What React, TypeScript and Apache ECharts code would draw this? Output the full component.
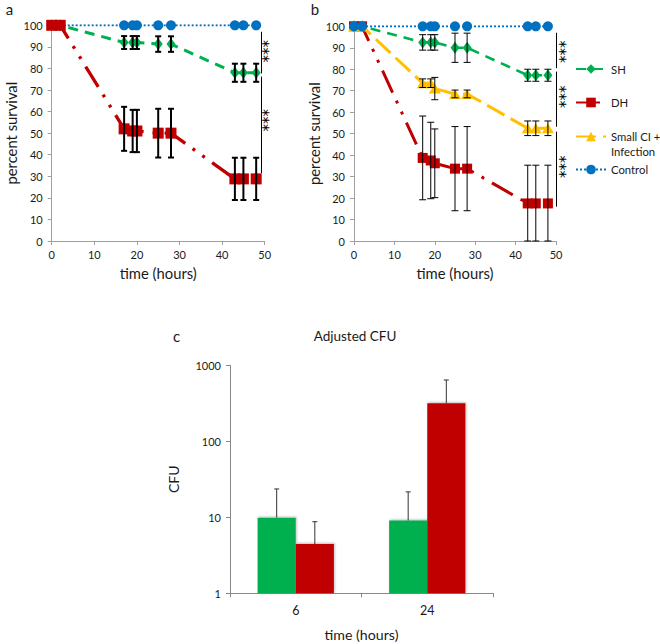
import React, { useEffect, useRef } from 'react';
import * as echarts from 'echarts';

const FONT = 'Lato, "Open Sans", sans-serif';
const STAR_FONT = '"DejaVu Sans", sans-serif';
const GREEN = '#00B050';
const RED = '#C00000';
const YELLOW = '#FFC000';
const BLUE = '#0070C0';
const AXIS_GRAY = '#a0a0a0';
const TXT = '#1a1a1a';

// time points (hours) for panels a and b
const TIME = [0, 2, 17, 19, 20, 25, 28, 43, 45, 48];

// Panel a
const A_CONTROL = [100, 100, 100, 100, 100, 100, 100, 100, 100, 100];
const A_SH = [100, 100, 92, 92, 92, 91.3, 91.3, 78, 78, 78];
const A_SH_ERR = [0, 0, 3, 3, 3, 3.6, 3.6, 4.2, 4.2, 4.2];
const A_DH = [100, 100, 52, 51, 51, 50, 50, 28.8, 28.8, 28.8];
const A_DH_ERR = [0, 0, 10.2, 9.8, 9.8, 11.3, 11.3, 9.8, 9.8, 9.8];

// Panel b
const B_CONTROL = [100, 100, 100, 100, 100, 100, 100, 100, 100, 100];
const B_SH = [100, 100, 92.5, 92.5, 92.5, 90, 90, 77.2, 77.2, 77.2];
const B_SH_ERR = [0, 0, 3.6, 3.6, 3.6, 6.8, 6.8, 2.8, 2.8, 2.8];
const B_CI = [100, 100, 73.5, 73.5, 71, 68.5, 68.5, 52.5, 52.5, 52.5];
const B_CI_ERR = [0, 0, 2, 2, 5.2, 1.8, 1.8, 3.4, 3.4, 3.4];
const B_DH = [100, 100, 38.7, 37.5, 36.2, 33.7, 33.7, 17.5, 17.5, 17.5];
const B_DH_ERR = [0, 0, 19.5, 17.8, 16, 19.6, 19.6, 17.8, 17.8, 17.8];

// Significance brackets [x, yTop, yBottom] and star positions [x, y]
const A_BRACKETS = [[49.3, 97, 77.7], [49.3, 76.2, 31.4]];
const A_STARS = [[50.3, 88], [50.3, 56]];
const B_BRACKETS = [[50, 97, 80.5], [50, 78.9, 53.2], [50, 50.9, 16]];
const B_STARS = [[51.5, 88.2], [51.5, 67.2], [51.5, 34.6]];
const STARS = '***';

// Panel c
const C_TIMES = ['6', '24'];
const C_SH = [9.9, 9.1];
const C_SH_ERR = [13.7, 12.5];
const C_DH = [4.45, 316];
const C_DH_ERR = [4.3, 325];

const X_TICKS = { min: 0, max: 50, interval: 10 };
const Y_TICKS = { min: 0, max: 100, interval: 10 };

function pairs(vals: number[]) {
  return TIME.map((t, i) => [t, vals[i]]);
}
function errRows(vals: number[], e: number[]) {
  const out: number[][] = [];
  TIME.forEach((t, i) => {
    if (e[i] > 0) out.push([t, Math.max(0, vals[i] - e[i]), vals[i] + e[i]]);
  });
  return out;
}

function errRender(capW: number, lw: number) {
  return (_params: any, api: any) => {
    const x = api.value(0);
    const lo = api.value(1);
    const hi = api.value(2);
    const top = api.coord([x, hi]);
    const bot = api.coord([x, lo]);
    const style = { stroke: '#000', lineWidth: lw, fill: 'none' };
    return {
      type: 'group',
      children: [
        { type: 'line', shape: { x1: top[0], y1: top[1], x2: bot[0], y2: bot[1] }, style },
        { type: 'line', shape: { x1: top[0] - capW / 2, y1: top[1], x2: top[0] + capW / 2, y2: top[1] }, style },
        { type: 'line', shape: { x1: bot[0] - capW / 2, y1: bot[1], x2: bot[0] + capW / 2, y2: bot[1] }, style },
      ],
    };
  };
}

function barErrRender(sign: number) {
  return (_params: any, api: any) => {
    const cat = api.value(0);
    const v = api.value(1);
    const hi = api.value(2);
    const bw = api.size([1, 1])[0];
    const off = sign * bw * 0.145;
    const p0 = api.coord([cat, v]);
    const p1 = api.coord([cat, hi]);
    const x = p0[0] + off;
    const style = { stroke: '#333', lineWidth: 1, fill: 'none' };
    return {
      type: 'group',
      children: [
        { type: 'line', shape: { x1: x, y1: p0[1], x2: x, y2: p1[1] }, style },
        { type: 'line', shape: { x1: x - 2.5, y1: p1[1], x2: x + 2.5, y2: p1[1] }, style },
      ],
    };
  };
}

// Significance stars: a custom series rendering '***' turned upright, at data coords [x, y]
function starRender(_params: any, api: any) {
  const p = api.coord([api.value(0), api.value(1)]);
  return {
    type: 'group',
    x: p[0] + 3.5,
    y: p[1],
    rotation: Math.PI / 2,
    children: [
      {
        type: 'text',
        x: 0,
        y: 0,
        style: { text: STARS, font: `15px ${STAR_FONT}`, fill: '#000', align: 'center', verticalAlign: 'middle' },
      },
    ],
  };
}

function starSeries(idx: number, list: number[][]) {
  return {
    type: 'custom', xAxisIndex: idx, yAxisIndex: idx, renderItem: starRender,
    data: list, encode: { x: 0, y: 1 }, z: 20, silent: true, clip: false,
    itemStyle: { color: '#000' },
  };
}

function lineSeries(name: string, idx: number, vals: number[], color: string, symbol: string,
  symbolSize: any, width: number, dash: any, z: number, extra: any = {}) {
  return {
    type: 'line',
    name,
    xAxisIndex: idx,
    yAxisIndex: idx,
    data: pairs(vals),
    symbol,
    symbolSize,
    showSymbol: true,
    itemStyle: { color, borderWidth: 0 },
    lineStyle: { color, width, type: dash, cap: 'butt' },
    z,
    silent: true,
    emphasis: { disabled: true },
    ...extra,
  };
}

function errSeries(idx: number, rows: number[][], capW: number, lw: number) {
  return {
    type: 'custom',
    xAxisIndex: idx,
    yAxisIndex: idx,
    renderItem: errRender(capW, lw),
    data: rows,
    encode: { x: 0, y: [1, 2] },
    z: 10,
    silent: true,
    clip: false,
  };
}

function brackets(list: number[][]) {
  return {
    markLine: {
      silent: true,
      symbol: ['none', 'none'],
      label: { show: false },
      lineStyle: { color: '#000', width: 1, type: 'solid' },
      emphasis: { disabled: true },
      data: list.map(([x, y1, y2]) => [{ coord: [x, y1] }, { coord: [x, y2] }]),
    },
  };
}

const axisLine = { show: true, onZero: false, lineStyle: { color: AXIS_GRAY, width: 1 } };
const axisTick = { show: true, length: 4, lineStyle: { color: AXIS_GRAY, width: 1 } };
const tickLabel = { fontFamily: FONT, fontSize: 11, color: TXT };
const nameStyle = { fontFamily: FONT, fontSize: 14.8, color: TXT };

function valX(gridIndex: number) {
  return {
    gridIndex, type: 'value', ...X_TICKS,
    axisLine, axisTick, splitLine: { show: false },
    axisLabel: { ...tickLabel, margin: 8 },
    name: 'time (hours)', nameLocation: 'middle', nameGap: 24, nameTextStyle: nameStyle,
  };
}
function valY(gridIndex: number, gap: number) {
  return {
    gridIndex, type: 'value', ...Y_TICKS,
    axisLine, axisTick, splitLine: { show: false },
    axisLabel: { ...tickLabel, margin: 9 },
    name: 'percent survival', nameLocation: 'middle', nameGap: gap, nameTextStyle: nameStyle,
  };
}

const LEGEND_FONT = 11.3;
const legendBase = {
  orient: 'vertical', left: 575, padding: 0, itemWidth: 30, itemHeight: 12,
  selectedMode: false,
  textStyle: { fontFamily: FONT, fontSize: LEGEND_FONT, color: TXT },
};

function buildOption(): any {
  const series: any[] = [
    // Panel b (first so that the legend takes its icons from here)
    lineSeries('SH', 1, B_SH, GREEN, 'diamond', [9, 12], 2.6, [10, 7], 3),
    lineSeries('DH', 1, B_DH, RED, 'rect', 10, 3, [24, 9, 3, 9, 3, 9], 2),
    lineSeries('Small CI + Infection', 1, B_CI, YELLOW, 'triangle', [12, 10], 3, [20, 7], 4),
    lineSeries('Control', 1, B_CONTROL, BLUE, 'circle', 10, 2, [2, 2], 5, brackets(B_BRACKETS)),
    errSeries(1, errRows(B_SH, B_SH_ERR), 7, 1),
    errSeries(1, errRows(B_CI, B_CI_ERR), 7, 1),
    errSeries(1, errRows(B_DH, B_DH_ERR), 7, 1),
    starSeries(1, B_STARS),
    // Panel a
    lineSeries('Control', 0, A_CONTROL, BLUE, 'circle', 10, 2, [2, 2], 2, brackets(A_BRACKETS)),
    lineSeries('SH', 0, A_SH, GREEN, 'diamond', [9, 12], 3, [10, 7], 3),
    lineSeries('DH', 0, A_DH, RED, 'rect', 11, 3.3, [24, 9, 3, 9, 3, 9], 4),
    errSeries(0, errRows(A_SH, A_SH_ERR), 6, 2),
    errSeries(0, errRows(A_DH, A_DH_ERR), 6, 2),
    starSeries(0, A_STARS),
    // Panel c
    {
      type: 'bar', name: 'SH CFU', xAxisIndex: 2, yAxisIndex: 2, data: C_SH,
      barGap: '0%', barCategoryGap: '42%', silent: true,
      itemStyle: { color: GREEN, shadowColor: 'rgba(0,0,0,0.25)', shadowBlur: 2, shadowOffsetX: 1, shadowOffsetY: -1 },
    },
    {
      type: 'bar', name: 'DH CFU', xAxisIndex: 2, yAxisIndex: 2, data: C_DH,
      barGap: '0%', barCategoryGap: '42%', silent: true,
      itemStyle: { color: RED, shadowColor: 'rgba(0,0,0,0.25)', shadowBlur: 2, shadowOffsetX: 1, shadowOffsetY: -1 },
    },
    {
      type: 'custom', xAxisIndex: 2, yAxisIndex: 2, renderItem: barErrRender(-1),
      data: C_SH.map((v, i) => [i, v, v + C_SH_ERR[i]]), encode: { x: 0, y: [1, 2] }, z: 10, silent: true,
    },
    {
      type: 'custom', xAxisIndex: 2, yAxisIndex: 2, renderItem: barErrRender(1),
      data: C_DH.map((v, i) => [i, v, v + C_DH_ERR[i]]), encode: { x: 0, y: [1, 2] }, z: 10, silent: true,
    },
  ];

  return {
    animation: false,
    backgroundColor: '#fff',
    grid: [
      { left: 51.7, top: 25.3, width: 213, height: 215.7 },
      { left: 354, top: 26.3, width: 202, height: 214.7 },
      { left: 230, top: 365.3, width: 263, height: 228 },
    ],
    xAxis: [
      valX(0),
      valX(1),
      {
        gridIndex: 2, type: 'category', data: C_TIMES,
        axisLine: { show: true, lineStyle: { color: '#888', width: 1 } },
        axisTick: { show: true, alignWithLabel: false, length: 4, lineStyle: { color: '#888' } },
        axisLabel: { fontFamily: FONT, fontSize: 12.5, color: TXT, margin: 11 },
        name: 'time (hours)', nameLocation: 'middle', nameGap: 34, nameTextStyle: { ...nameStyle, fontSize: 14.2 },
      },
    ],
    yAxis: [
      valY(0, 33),
      valY(1, 33),
      {
        gridIndex: 2, type: 'log', logBase: 10, min: 1, max: 1000,
        axisLine: { show: true, lineStyle: { color: '#888', width: 1 } },
        axisTick: { show: true, length: 4, lineStyle: { color: '#888' } },
        splitLine: { show: false },
        axisLabel: { ...tickLabel, margin: 9, formatter: (v: number) => String(Math.round(v)) },
        name: 'CFU', nameLocation: 'middle', nameGap: 50, nameTextStyle: { ...nameStyle, fontSize: 14 },
      },
    ],
    legend: [
      { ...legendBase, data: ['SH'], top: 63.5 },
      { ...legendBase, data: ['DH'], top: 97 },
      {
        ...legendBase, data: ['Small CI + Infection'], top: 116,
        formatter: () => '{a| }\n{a|Small CI +}\n{a|Infection}',
        textStyle: {
          ...legendBase.textStyle,
          rich: { a: { fontFamily: FONT, fontSize: LEGEND_FONT, color: TXT, lineHeight: 15 } },
        },
      },
      { ...legendBase, data: ['Control'], top: 164 },
    ],
    graphic: [
      { type: 'text', x: 9.5, y: 8.5, style: { text: 'a', font: `15px ${FONT}`, fill: TXT, align: 'center', verticalAlign: 'middle' } },
      { type: 'text', x: 315, y: 8.5, style: { text: 'b', font: `15px ${FONT}`, fill: TXT, align: 'center', verticalAlign: 'middle' } },
      { type: 'text', x: 176.5, y: 336, style: { text: 'c', font: `15px ${FONT}`, fill: TXT, align: 'center', verticalAlign: 'middle' } },
      { type: 'text', x: 355, y: 336, style: { text: 'Adjusted CFU', font: `13.5px ${FONT}`, fill: TXT, align: 'center', verticalAlign: 'middle' } },
    ],
    series,
  };
}

export default function App() {
  const ref = useRef<HTMLDivElement>(null);
  useEffect(() => {
    document.body.style.margin = '0';
    const chart = echarts.init(ref.current as HTMLDivElement, null, { renderer: 'svg' });
    chart.setOption(buildOption());
    return () => chart.dispose();
  }, []);
  return <div ref={ref} style={{ width: 660, height: 644 }} />;
}
